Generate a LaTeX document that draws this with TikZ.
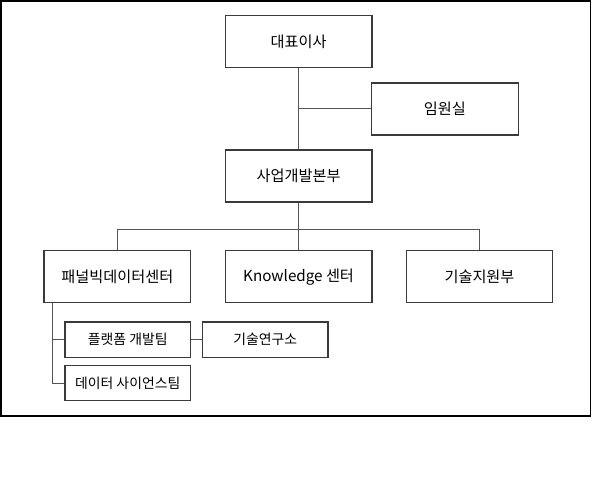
\documentclass[tikz,border=0pt]{standalone}
\usepackage{fontspec}
\setmainfont{Noto Sans CJK KR}
\begin{document}
\begin{tikzpicture}[x=0.75pt,y=-0.75pt,
  orgbox/.style={draw=boxgray,line width=0.9pt,fill=white,inner sep=0pt,
    minimum width=110pt,minimum height=39pt,font=\fontsize{11.4}{13}\selectfont},
  subbox/.style={draw=boxgray,line width=0.9pt,fill=white,inner sep=0pt,
    minimum width=94pt,minimum height=26.5pt,font=\fontsize{10.4}{12}\selectfont},
  link/.style={draw=linegray,line width=0.75pt}]
\definecolor{boxgray}{HTML}{3A3A3A}
\definecolor{linegray}{HTML}{555555}
\useasboundingbox (0,0) rectangle (592,480);
\fill[white] (0,0) rectangle (592,480);
\draw[black,line width=1.2pt] (1,1) rectangle (590.5,416);

\node[orgbox] (ceo) at (298.6,41.7) {대표이사};
\node[orgbox] (office) at (444.9,108.9) {임원실};
\node[orgbox] (biz) at (298.6,176) {사업개발본부};
\node[orgbox] (panel) at (117.3,276.7) {패널빅데이터센터};
\node[orgbox] (know) at (298.6,276.7) {Knowledge 센터};
\node[orgbox] (tech) at (479.5,276.7) {기술지원부};
\node[subbox] (plat) at (127.7,339.7) {플랫폼 개발팀};
\node[subbox] (lab) at (265.3,339.7) {기술연구소};
\node[subbox] (ds) at (127.7,383) {데이터 사이언스팀};

\coordinate (jo) at (ceo.south |- office.west);
\coordinate (bus) at (298.6,229);
\coordinate (pd) at (52.7,0);

\draw[link] (ceo.south) -- (biz.north);
\draw[link] (jo) -- (office.west);
\draw[link] (biz.south) -- (bus);
\draw[link] (panel.north) |- (bus) -| (tech.north);
\draw[link] (bus) -- (know.north);
\draw[link] (pd |- panel.south) |- (ds.west);
\draw[link] (pd |- plat.west) -- (plat.west);
\draw[link] (plat.east) -- (lab.west);
\end{tikzpicture}
\end{document}
